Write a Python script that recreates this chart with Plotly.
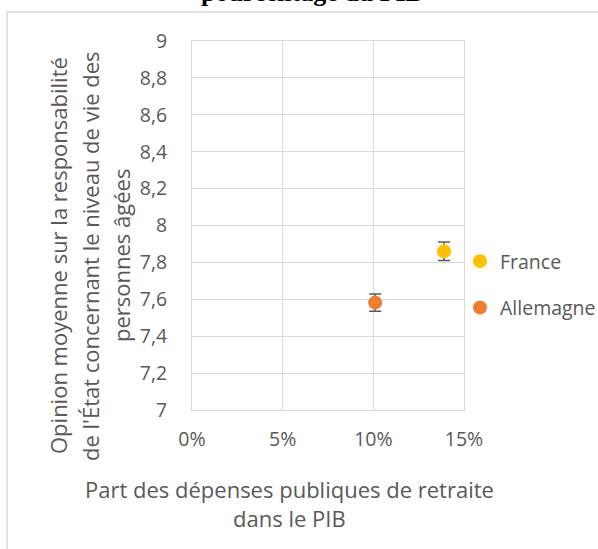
import plotly.graph_objects as go

countries = ["France", "Allemagne"]
spending_pct = [13.9, 10.1]          # % of GDP
opinion_mean = [7.86, 7.582]
opinion_err = [0.05, 0.047]
colors = ["#FFC000", "#ED7D31"]

x_ticks = [0, 5, 10, 15]
x_tick_labels = ["0%", "5%", "10%", "15%"]
y_ticks = [7, 7.2, 7.4, 7.6, 7.8, 8, 8.2, 8.4, 8.6, 8.8, 9]
y_tick_labels = ["7", "7,2", "7,4", "7,6", "7,8", "8", "8,2", "8,4", "8,6", "8,8", "9"]

title_text = "pourcentage du PIB"
y_title_lines = ["Opinion moyenne sur la responsabilité",
                 "de l'État concernant le niveau de vie des",
                 "personnes âgées"]
x_title_lines = ["Part des dépenses publiques de retraite", "dans le PIB"]

W, H = 598, 549
L, R, T, B = 192, 464, 41, 410
pw, ph = R - L, B - T

def px(x):
    return (x - L) / pw

def py(y):
    return (B - y) / ph

FONT = "Open Sans"
GREY = "#595959"

fig = go.Figure()
for i, c in enumerate(countries):
    fig.add_trace(go.Scatter(
        x=[spending_pct[i]], y=[opinion_mean[i]], mode="markers", name=c,
        legendgroup=c,
        marker=dict(color=colors[i], size=14),
        error_y=dict(type="data", array=[opinion_err[i]], color=GREY,
                     thickness=1.5, width=6),
    ))

annotations = []
annotations.append(dict(text="<b>" + title_text + "</b>", xref="paper", yref="paper",
                        x=px(312), y=py(9), xanchor="center", yanchor="bottom",
                        showarrow=False,
                        font=dict(family="Liberation Serif", size=26, color="#000000")))
for xpix, line in zip([58, 90, 121], y_title_lines):
    annotations.append(dict(text=line, xref="paper", yref="paper",
                            x=px(xpix), y=py(256), xanchor="center", yanchor="middle",
                            textangle=-90, showarrow=False,
                            font=dict(family=FONT, size=22, color=GREY)))
for ypix, line in zip([489, 518], x_title_lines):
    annotations.append(dict(text=line, xref="paper", yref="paper",
                            x=px(289), y=py(ypix), xanchor="center", yanchor="middle",
                            showarrow=False,
                            font=dict(family=FONT, size=22, color=GREY)))

fig.update_layout(
    width=W, height=H,
    margin=dict(l=L, r=W - R, t=T, b=H - B, pad=0, autoexpand=False),
    paper_bgcolor="white", plot_bgcolor="white",
    showlegend=True,
    legend=dict(x=px(460), y=py(242), xanchor="left", yanchor="top",
                font=dict(family=FONT, size=19.5, color=GREY),
                tracegroupgap=18, itemwidth=30, bgcolor="rgba(0,0,0,0)"),
    annotations=annotations,
    shapes=[dict(type="rect", xref="paper", yref="paper",
                 x0=px(7), x1=px(620), y0=py(12), y1=py(600),
                 line=dict(color="#D9D9D9", width=1.5), layer="below")],
    xaxis=dict(range=[0, 15], tickvals=x_ticks, ticktext=x_tick_labels,
               showgrid=True, gridcolor="#D9D9D9", gridwidth=1,
               showline=True, linecolor="#D9D9D9", mirror=True, zeroline=False,
               ticks="", ticklabelstandoff=12,
               tickfont=dict(family=FONT, size=19.5, color=GREY), fixedrange=True),
    yaxis=dict(range=[7, 9], tickvals=y_ticks, ticktext=y_tick_labels,
               showgrid=True, gridcolor="#D9D9D9", gridwidth=1,
               showline=True, linecolor="#D9D9D9", mirror=True, zeroline=False,
               ticks="", ticklabelstandoff=20,
               tickfont=dict(family=FONT, size=19.5, color=GREY), fixedrange=True),
)

fig.write_html("out.html", config={"displayModeBar": False},
               post_script="document.body.style.margin='0';document.body.style.overflow='hidden';")
